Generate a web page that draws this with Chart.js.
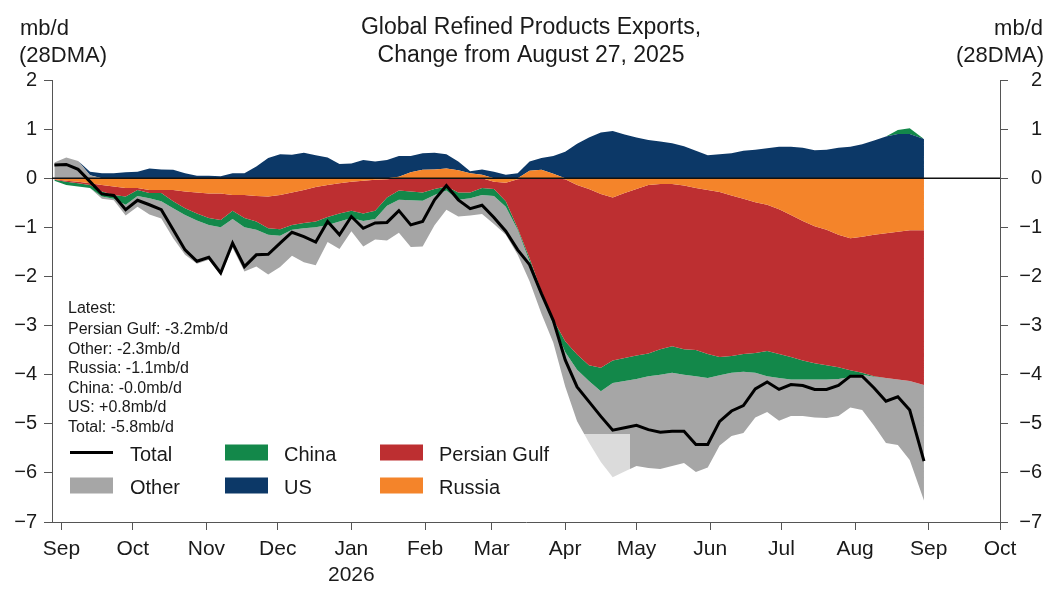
<!DOCTYPE html>
<html>
<head>
<meta charset="utf-8">
<title>Global Refined Products Exports</title>
<script src="https://cdn.jsdelivr.net/npm/chart.js@4.4.1/dist/chart.umd.min.js"></script>
<style>
    body { margin: 0; background: #fff; }
    #wrap { width: 1064px; height: 589px; }
</style>
</head>
<body>
<div id="wrap"><canvas id="chart1" width="1064" height="589"></canvas></div>
<script>
// days counted from 1 Sep 2025, one reading every 5 days
var days = [-3, 2, 7, 12, 17, 22, 27, 32, 37, 42, 47, 52, 57, 62, 67, 72, 77, 82, 87, 92,
    97, 102, 107, 112, 117, 122, 127, 132, 137, 142, 147, 152, 157, 162, 167, 172, 177, 182, 187, 192,
    197, 202, 207, 212, 217, 222, 227, 232, 237, 242, 247, 252, 257, 262, 267, 272, 277, 282, 287, 292,
    297, 302, 307, 312, 317, 322, 327, 332, 337, 342, 347, 352, 357, 363];

var russia = [-0.02, -0.05, -0.07, -0.10, -0.14, -0.17, -0.20, -0.20, -0.24, -0.24, -0.24, -0.27, -0.29, -0.31, -0.31, -0.34, -0.34, -0.36, -0.37, -0.34,
    -0.29, -0.24, -0.18, -0.14, -0.10, -0.07, -0.05, -0.03, -0.02, 0.03, 0.12, 0.17, 0.18, 0.20, 0.16, 0.10, 0.07, -0.07, -0.09, -0.02,
    0.15, 0.17, 0.09, -0.02, -0.14, -0.22, -0.32, -0.39, -0.30, -0.22, -0.14, -0.12, -0.12, -0.15, -0.20, -0.24, -0.28, -0.35, -0.42, -0.49,
    -0.54, -0.63, -0.75, -0.87, -0.98, -1.05, -1.15, -1.22, -1.19, -1.15, -1.12, -1.09, -1.06, -1.06];

var persianGulf = [-0.01, -0.02, -0.03, -0.04, -0.13, -0.17, -0.17, -0.04, -0.06, -0.06, -0.23, -0.34, -0.43, -0.50, -0.54, -0.32, -0.47, -0.52, -0.65, -0.70,
    -0.66, -0.67, -0.70, -0.65, -0.62, -0.59, -0.67, -0.63, -0.37, -0.25, -0.27, -0.29, -0.22, -0.17, -0.29, -0.29, -0.20, -0.15, -0.38, -1.00,
    -1.63, -2.30, -2.88, -3.30, -3.45, -3.59, -3.54, -3.32, -3.36, -3.39, -3.43, -3.36, -3.30, -3.33, -3.30, -3.34, -3.36, -3.27, -3.16, -3.07,
    -2.98, -2.95, -2.89, -2.84, -2.79, -2.76, -2.70, -2.69, -2.77, -2.88, -2.95, -3.01, -3.07, -3.15];

var china = [-0.02, -0.07, -0.07, -0.06, -0.10, -0.08, -0.17, -0.12, -0.11, -0.17, -0.14, -0.14, -0.14, -0.14, -0.15, -0.17, -0.19, -0.17, -0.13, -0.13,
    -0.10, -0.11, -0.12, -0.16, -0.16, -0.15, -0.15, -0.17, -0.17, -0.19, -0.18, -0.17, -0.12, -0.08, -0.15, -0.12, -0.14, -0.14, -0.11, -0.03,
    -0.06, -0.06, -0.10, -0.22, -0.31, -0.32, -0.48, -0.46, -0.47, -0.48, -0.46, -0.52, -0.54, -0.52, -0.53, -0.49, -0.37, -0.34, -0.36, -0.40,
    -0.51, -0.49, -0.46, -0.39, -0.33, -0.29, -0.24, -0.14, -0.04, -0.01, 0.00, 0.08, 0.12, 0.00];

var other = [0.32, 0.42, 0.35, 0.06, -0.05, -0.03, -0.22, -0.22, -0.33, -0.35, -0.61, -0.81, -0.88, -0.71, -0.97, -0.59, -0.90, -0.75, -0.81, -0.64,
    -0.53, -0.69, -0.77, -0.35, -0.56, -0.27, -0.52, -0.42, -0.71, -0.67, -0.95, -0.93, -0.62, -0.39, -0.34, -0.35, -0.39, -0.57, -0.57, -0.51,
    -0.41, -0.40, -0.37, -0.70, -1.05, -1.25, -1.44, -1.92, -1.84, -1.77, -1.87, -1.92, -1.90, -1.80, -1.95, -1.82, -1.43, -1.29, -1.25, -0.91,
    -0.73, -0.87, -0.74, -0.74, -0.77, -0.78, -0.75, -0.62, -0.72, -1.00, -1.32, -1.33, -1.61, -2.35];

var us = [0.00, 0.00, 0.00, 0.07, 0.10, 0.10, 0.12, 0.13, 0.20, 0.18, 0.17, 0.10, 0.05, 0.05, 0.04, 0.10, 0.10, 0.24, 0.41, 0.49,
    0.48, 0.52, 0.47, 0.42, 0.29, 0.30, 0.37, 0.34, 0.37, 0.42, 0.33, 0.34, 0.34, 0.29, 0.18, 0.04, 0.11, 0.13, 0.07, 0.10,
    0.19, 0.24, 0.36, 0.54, 0.70, 0.83, 0.93, 0.96, 0.89, 0.83, 0.78, 0.75, 0.71, 0.65, 0.56, 0.47, 0.49, 0.51, 0.56, 0.58,
    0.61, 0.64, 0.64, 0.62, 0.57, 0.58, 0.62, 0.64, 0.69, 0.77, 0.85, 0.90, 0.90, 0.80];

var total = [0.27, 0.28, 0.18, -0.07, -0.32, -0.35, -0.64, -0.45, -0.54, -0.64, -1.05, -1.46, -1.69, -1.61, -1.93, -1.32, -1.80, -1.56, -1.55, -1.32,
    -1.10, -1.19, -1.30, -0.88, -1.15, -0.78, -1.02, -0.91, -0.90, -0.66, -0.95, -0.88, -0.44, -0.15, -0.44, -0.62, -0.55, -0.80, -1.08, -1.46,
    -1.76, -2.35, -2.90, -3.70, -4.25, -4.55, -4.85, -5.13, -5.08, -5.03, -5.12, -5.17, -5.15, -5.15, -5.42, -5.42, -4.95, -4.74, -4.63, -4.29,
    -4.15, -4.30, -4.20, -4.22, -4.30, -4.30, -4.22, -4.03, -4.03, -4.27, -4.54, -4.45, -4.72, -5.76];

var monthTickDays = [0, 30, 61, 91, 122, 153, 181, 212, 242, 273, 303, 334, 365, 395];
var monthTickLabels = ['Sep', 'Oct', 'Nov', 'Dec', ['Jan', '2026'], 'Feb', 'Mar', 'Apr', 'May', 'Jun', 'Jul', 'Aug', 'Sep', 'Oct'];

var latestLines = ['Latest:', 'Persian Gulf: -3.2mb/d', 'Other: -2.3mb/d', 'Russia: -1.1mb/d',
    'China: -0.0mb/d', 'US: +0.8mb/d', 'Total: -5.8mb/d'];

var colors = {
    total: '#000000',
    other: '#a6a6a6',
    china: '#13884a',
    us: '#0c3867',
    gulf: '#bd2f31',
    russia: '#f4842a'
};

var FONT = '"Liberation Sans", Arial, sans-serif';

function splitSign(values, sign) {
    return values.map(function(v, i) {
        var part = sign > 0 ? Math.max(v, 0) : Math.min(v, 0);
        return { x: days[i], y: part };
    });
}

function area(label, values, sign, color, fillTo) {
    return {
        label: label,
        data: splitSign(values, sign),
        stack: sign > 0 ? 'above' : 'below',
        backgroundColor: color,
        borderWidth: 0,
        pointRadius: 0,
        tension: 0,
        fill: fillTo
    };
}

function minusLabel(v) {
    return v < 0 ? '\u2212' + Math.abs(v) : String(v);
}

var overlayPlugin = {
    id: 'overlay',
    beforeDatasetDraw: function(chart, args) {
        // zero line goes under the Total line, over the areas
        if (args.index !== 0) return;
        var ctx = chart.ctx;
        var area = chart.chartArea;
        var y0 = chart.scales.y.getPixelForValue(0);
        ctx.save();
        ctx.strokeStyle = '#111';
        ctx.lineWidth = 1.5;
        ctx.beginPath();
        ctx.moveTo(area.left, y0);
        ctx.lineTo(area.right, y0);
        ctx.stroke();
        ctx.restore();
    },
    afterDatasetsDraw: function(chart) {
        var ctx = chart.ctx;
        ctx.save();

        // legend box
        ctx.fillStyle = 'rgba(255,255,255,0.6)';
        ctx.fillRect(62, 434, 568, 72);

        ctx.fillStyle = '#1a1a1a';
        ctx.font = '16px ' + FONT;
        ctx.textAlign = 'left';
        ctx.textBaseline = 'alphabetic';
        ctx.fillText(latestLines[0], 68, 313);
        for (var i = 1; i < latestLines.length; i++) {
            ctx.fillText(latestLines[i], 68, 334 + (i - 1) * 19.6);
        }

        var items = [
            { label: 'Total', color: colors.total, line: true, x: 70, row: 0 },
            { label: 'Other', color: colors.other, x: 70, row: 1 },
            { label: 'China', color: colors.china, x: 225, row: 0 },
            { label: 'US', color: colors.us, x: 225, row: 1 },
            { label: 'Persian Gulf', color: colors.gulf, x: 380, row: 0 },
            { label: 'Russia', color: colors.russia, x: 380, row: 1 }
        ];
        ctx.font = '20px ' + FONT;
        items.forEach(function(it) {
            var cy = it.row === 0 ? 452.5 : 485.5;
            if (it.line) {
                ctx.strokeStyle = it.color;
                ctx.lineWidth = 3;
                ctx.beginPath();
                ctx.moveTo(it.x, cy);
                ctx.lineTo(it.x + 43, cy);
                ctx.stroke();
            } else {
                ctx.fillStyle = it.color;
                ctx.fillRect(it.x, cy - 8, 43, 16);
            }
            ctx.fillStyle = '#1a1a1a';
            ctx.fillText(it.label, it.x + (it.x === 70 ? 60 : 59), cy + 8);
        });
        ctx.restore();
    },
    afterDraw: function(chart) {
        var ctx = chart.ctx;
        ctx.save();
        ctx.fillStyle = '#1a1a1a';
        ctx.textBaseline = 'alphabetic';

        ctx.font = '23px ' + FONT;
        ctx.textAlign = 'center';
        ctx.fillText('Global Refined Products Exports,', 531, 33.5);
        ctx.fillText('Change from August 27, 2025', 531, 61.5);

        ctx.font = '22px ' + FONT;
        ctx.textAlign = 'left';
        ctx.fillText('mb/d', 20, 35);
        ctx.fillText('(28DMA)', 19, 62);
        ctx.textAlign = 'right';
        ctx.fillText('mb/d', 1043, 35);
        ctx.fillText('(28DMA)', 1044, 62);
        ctx.restore();
    }
};

function makeExportsChart() {
    Chart.defaults.font.family = FONT;
    Chart.defaults.color = '#1a1a1a';

    var ctx1 = document.getElementById('chart1').getContext('2d');
    var chart1 = new Chart(ctx1, {
        type: 'line',
        data: {
            datasets: [
                {
                    label: 'Total',
                    data: total.map(function(v, i) { return { x: days[i], y: v }; }),
                    stack: 'total',
                    borderColor: colors.total,
                    borderWidth: 3,
                    pointRadius: 0,
                    tension: 0,
                    fill: false
                },
                area('Russia', russia, -1, colors.russia, 'origin'),
                area('Persian Gulf', persianGulf, -1, colors.gulf, '-1'),
                area('China', china, -1, colors.china, '-1'),
                area('Other', other, -1, colors.other, '-1'),
                area('Other', other, 1, colors.other, 'origin'),
                area('Russia', russia, 1, colors.russia, '-1'),
                area('US', us, 1, colors.us, '-1'),
                area('China', china, 1, colors.china, '-1')
            ]
        },
        options: {
            responsive: false,
            animation: false,
            events: [],
            layout: { padding: { top: 80, right: 22, left: 0, bottom: 0 } },
            plugins: {
                legend: { display: false },
                tooltip: { enabled: false }
            },
            scales: {
                x: {
                    type: 'linear',
                    min: -4,
                    max: 395,
                    afterBuildTicks: function(scale) {
                        scale.ticks = monthTickDays.map(function(d) { return { value: d }; });
                    },
                    afterFit: function(scale) { scale.height = 67; },
                    ticks: {
                        autoSkip: false,
                        maxRotation: 0,
                        padding: 7,
                        font: { size: 21 },
                        color: '#1a1a1a',
                        callback: function(value, index) { return monthTickLabels[index]; }
                    },
                    grid: { drawOnChartArea: false, tickLength: 8, tickColor: '#555' },
                    border: { color: '#555' }
                },
                y: {
                    stacked: true,
                    position: 'left',
                    min: -7,
                    max: 2,
                    afterFit: function(scale) { scale.width = 52; },
                    ticks: {
                        stepSize: 1,
                        padding: 7,
                        font: { size: 20 },
                        color: '#1a1a1a',
                        callback: minusLabel
                    },
                    grid: { drawOnChartArea: false, tickLength: 8, tickColor: '#555' },
                    border: { color: '#555' }
                },
                y2: {
                    position: 'right',
                    min: -7,
                    max: 2,
                    afterFit: function(scale) { scale.width = 42; },
                    ticks: {
                        stepSize: 1,
                        padding: 7,
                        crossAlign: 'far',
                        font: { size: 20 },
                        color: '#1a1a1a',
                        callback: minusLabel
                    },
                    grid: { drawOnChartArea: false, tickLength: 8, tickColor: '#555' },
                    border: { color: '#555' }
                }
            }
        },
        plugins: [overlayPlugin]
    });
}

window.onload = function() {
    makeExportsChart();
};
</script>
</body>
</html>
